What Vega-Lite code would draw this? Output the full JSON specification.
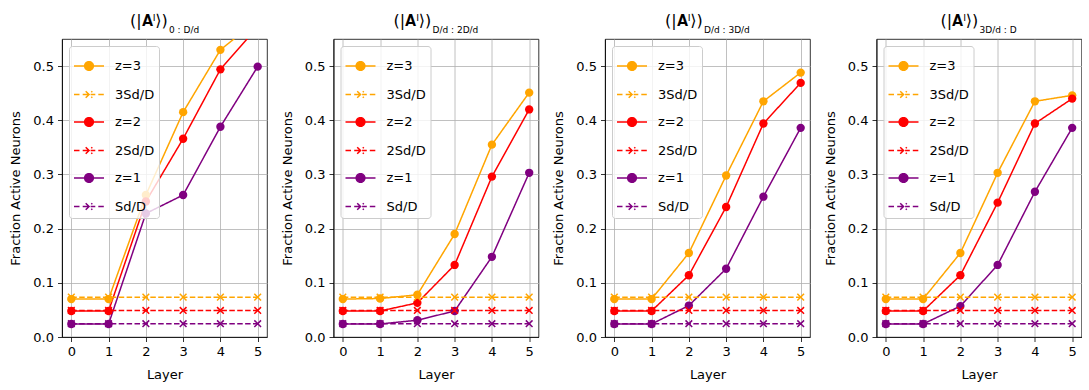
{
  "$schema": "https://vega.github.io/schema/vega-lite/v6.json",
  "padding": {"left": 9, "top": 12, "right": 0, "bottom": 0},
  "background": "white",
  "config": {
    "font": "DejaVu Sans",
    "view": {"stroke": "black", "strokeWidth": 0.8},
    "axis": {
      "grid": true, "gridColor": "#b0b0b0", "gridWidth": 0.8,
      "domainColor": "black", "domainWidth": 0.8,
      "tickColor": "black", "tickSize": 4.5, "tickWidth": 0.8,
      "labelColor": "black", "labelFontSize": 13, "labelPadding": 4,
      "titleColor": "black", "titleFontSize": 13, "titleFontWeight": "normal",
      "labelFont": "DejaVu Sans", "titleFont": "DejaVu Sans"
    },
    "title": {"fontSize": 16, "fontWeight": "normal", "color": "black", "font": "DejaVu Sans", "offset": 4, "anchor": "start", "frame": "group",
      "subtitleFontSize": 9, "subtitleColor": "black", "subtitleFont": "DejaVu Sans", "subtitlePadding": -5},
    "legend": {
      "orient": "top-left", "offset": 7, "padding": 4,
      "fillColor": "rgba(255,255,255,0.8)", "strokeColor": "#cccccc", "cornerRadius": 3,
      "symbolSize": 900, "symbolStrokeWidth": 1.5, "labelFontSize": 13, "labelOffset": 10,
      "labelColor": "black", "labelFont": "DejaVu Sans", "rowPadding": 4.5, "title": null
    }
  },
  "datasets": {
    "d": [
      {"p":1,"l":0,"s":"z=3","v":0.070},{"p":1,"l":1,"s":"z=3","v":0.070},{"p":1,"l":2,"s":"z=3","v":0.262},{"p":1,"l":3,"s":"z=3","v":0.415},{"p":1,"l":4,"s":"z=3","v":0.530},{"p":1,"l":5,"s":"z=3","v":0.585},
      {"p":1,"l":0,"s":"z=2","v":0.048},{"p":1,"l":1,"s":"z=2","v":0.048},{"p":1,"l":2,"s":"z=2","v":0.250},{"p":1,"l":3,"s":"z=2","v":0.366},{"p":1,"l":4,"s":"z=2","v":0.494},{"p":1,"l":5,"s":"z=2","v":0.572},
      {"p":1,"l":0,"s":"z=1","v":0.024},{"p":1,"l":1,"s":"z=1","v":0.024},{"p":1,"l":2,"s":"z=1","v":0.228},{"p":1,"l":3,"s":"z=1","v":0.262},{"p":1,"l":4,"s":"z=1","v":0.388},{"p":1,"l":5,"s":"z=1","v":0.499},
      {"p":1,"l":0,"s":"3Sd/D","v":0.0735},{"p":1,"l":1,"s":"3Sd/D","v":0.0735},{"p":1,"l":2,"s":"3Sd/D","v":0.0735},{"p":1,"l":3,"s":"3Sd/D","v":0.0735},{"p":1,"l":4,"s":"3Sd/D","v":0.0735},{"p":1,"l":5,"s":"3Sd/D","v":0.0735},
      {"p":1,"l":0,"s":"2Sd/D","v":0.049},{"p":1,"l":1,"s":"2Sd/D","v":0.049},{"p":1,"l":2,"s":"2Sd/D","v":0.049},{"p":1,"l":3,"s":"2Sd/D","v":0.049},{"p":1,"l":4,"s":"2Sd/D","v":0.049},{"p":1,"l":5,"s":"2Sd/D","v":0.049},
      {"p":1,"l":0,"s":"Sd/D","v":0.0245},{"p":1,"l":1,"s":"Sd/D","v":0.0245},{"p":1,"l":2,"s":"Sd/D","v":0.0245},{"p":1,"l":3,"s":"Sd/D","v":0.0245},{"p":1,"l":4,"s":"Sd/D","v":0.0245},{"p":1,"l":5,"s":"Sd/D","v":0.0245},

      {"p":2,"l":0,"s":"z=3","v":0.070},{"p":2,"l":1,"s":"z=3","v":0.071},{"p":2,"l":2,"s":"z=3","v":0.078},{"p":2,"l":3,"s":"z=3","v":0.190},{"p":2,"l":4,"s":"z=3","v":0.355},{"p":2,"l":5,"s":"z=3","v":0.451},
      {"p":2,"l":0,"s":"z=2","v":0.048},{"p":2,"l":1,"s":"z=2","v":0.048},{"p":2,"l":2,"s":"z=2","v":0.063},{"p":2,"l":3,"s":"z=2","v":0.133},{"p":2,"l":4,"s":"z=2","v":0.296},{"p":2,"l":5,"s":"z=2","v":0.420},
      {"p":2,"l":0,"s":"z=1","v":0.024},{"p":2,"l":1,"s":"z=1","v":0.024},{"p":2,"l":2,"s":"z=1","v":0.031},{"p":2,"l":3,"s":"z=1","v":0.048},{"p":2,"l":4,"s":"z=1","v":0.148},{"p":2,"l":5,"s":"z=1","v":0.303},
      {"p":2,"l":0,"s":"3Sd/D","v":0.0735},{"p":2,"l":1,"s":"3Sd/D","v":0.0735},{"p":2,"l":2,"s":"3Sd/D","v":0.0735},{"p":2,"l":3,"s":"3Sd/D","v":0.0735},{"p":2,"l":4,"s":"3Sd/D","v":0.0735},{"p":2,"l":5,"s":"3Sd/D","v":0.0735},
      {"p":2,"l":0,"s":"2Sd/D","v":0.049},{"p":2,"l":1,"s":"2Sd/D","v":0.049},{"p":2,"l":2,"s":"2Sd/D","v":0.049},{"p":2,"l":3,"s":"2Sd/D","v":0.049},{"p":2,"l":4,"s":"2Sd/D","v":0.049},{"p":2,"l":5,"s":"2Sd/D","v":0.049},
      {"p":2,"l":0,"s":"Sd/D","v":0.0245},{"p":2,"l":1,"s":"Sd/D","v":0.0245},{"p":2,"l":2,"s":"Sd/D","v":0.0245},{"p":2,"l":3,"s":"Sd/D","v":0.0245},{"p":2,"l":4,"s":"Sd/D","v":0.0245},{"p":2,"l":5,"s":"Sd/D","v":0.0245},

      {"p":3,"l":0,"s":"z=3","v":0.070},{"p":3,"l":1,"s":"z=3","v":0.070},{"p":3,"l":2,"s":"z=3","v":0.155},{"p":3,"l":3,"s":"z=3","v":0.298},{"p":3,"l":4,"s":"z=3","v":0.435},{"p":3,"l":5,"s":"z=3","v":0.488},
      {"p":3,"l":0,"s":"z=2","v":0.048},{"p":3,"l":1,"s":"z=2","v":0.048},{"p":3,"l":2,"s":"z=2","v":0.114},{"p":3,"l":3,"s":"z=2","v":0.240},{"p":3,"l":4,"s":"z=2","v":0.394},{"p":3,"l":5,"s":"z=2","v":0.469},
      {"p":3,"l":0,"s":"z=1","v":0.024},{"p":3,"l":1,"s":"z=1","v":0.024},{"p":3,"l":2,"s":"z=1","v":0.058},{"p":3,"l":3,"s":"z=1","v":0.126},{"p":3,"l":4,"s":"z=1","v":0.259},{"p":3,"l":5,"s":"z=1","v":0.386},
      {"p":3,"l":0,"s":"3Sd/D","v":0.0735},{"p":3,"l":1,"s":"3Sd/D","v":0.0735},{"p":3,"l":2,"s":"3Sd/D","v":0.0735},{"p":3,"l":3,"s":"3Sd/D","v":0.0735},{"p":3,"l":4,"s":"3Sd/D","v":0.0735},{"p":3,"l":5,"s":"3Sd/D","v":0.0735},
      {"p":3,"l":0,"s":"2Sd/D","v":0.049},{"p":3,"l":1,"s":"2Sd/D","v":0.049},{"p":3,"l":2,"s":"2Sd/D","v":0.049},{"p":3,"l":3,"s":"2Sd/D","v":0.049},{"p":3,"l":4,"s":"2Sd/D","v":0.049},{"p":3,"l":5,"s":"2Sd/D","v":0.049},
      {"p":3,"l":0,"s":"Sd/D","v":0.0245},{"p":3,"l":1,"s":"Sd/D","v":0.0245},{"p":3,"l":2,"s":"Sd/D","v":0.0245},{"p":3,"l":3,"s":"Sd/D","v":0.0245},{"p":3,"l":4,"s":"Sd/D","v":0.0245},{"p":3,"l":5,"s":"Sd/D","v":0.0245},

      {"p":4,"l":0,"s":"z=3","v":0.070},{"p":4,"l":1,"s":"z=3","v":0.070},{"p":4,"l":2,"s":"z=3","v":0.155},{"p":4,"l":3,"s":"z=3","v":0.303},{"p":4,"l":4,"s":"z=3","v":0.435},{"p":4,"l":5,"s":"z=3","v":0.446},
      {"p":4,"l":0,"s":"z=2","v":0.048},{"p":4,"l":1,"s":"z=2","v":0.048},{"p":4,"l":2,"s":"z=2","v":0.114},{"p":4,"l":3,"s":"z=2","v":0.248},{"p":4,"l":4,"s":"z=2","v":0.394},{"p":4,"l":5,"s":"z=2","v":0.440},
      {"p":4,"l":0,"s":"z=1","v":0.024},{"p":4,"l":1,"s":"z=1","v":0.024},{"p":4,"l":2,"s":"z=1","v":0.057},{"p":4,"l":3,"s":"z=1","v":0.133},{"p":4,"l":4,"s":"z=1","v":0.268},{"p":4,"l":5,"s":"z=1","v":0.386},
      {"p":4,"l":0,"s":"3Sd/D","v":0.0735},{"p":4,"l":1,"s":"3Sd/D","v":0.0735},{"p":4,"l":2,"s":"3Sd/D","v":0.0735},{"p":4,"l":3,"s":"3Sd/D","v":0.0735},{"p":4,"l":4,"s":"3Sd/D","v":0.0735},{"p":4,"l":5,"s":"3Sd/D","v":0.0735},
      {"p":4,"l":0,"s":"2Sd/D","v":0.049},{"p":4,"l":1,"s":"2Sd/D","v":0.049},{"p":4,"l":2,"s":"2Sd/D","v":0.049},{"p":4,"l":3,"s":"2Sd/D","v":0.049},{"p":4,"l":4,"s":"2Sd/D","v":0.049},{"p":4,"l":5,"s":"2Sd/D","v":0.049},
      {"p":4,"l":0,"s":"Sd/D","v":0.0245},{"p":4,"l":1,"s":"Sd/D","v":0.0245},{"p":4,"l":2,"s":"Sd/D","v":0.0245},{"p":4,"l":3,"s":"Sd/D","v":0.0245},{"p":4,"l":4,"s":"Sd/D","v":0.0245},{"p":4,"l":5,"s":"Sd/D","v":0.0245}
    ]
  },
  "data": {"name": "d"},
  "spacing": 12.5,
  "resolve": {"scale": {"color": "independent", "strokeDash": "independent"}, "legend": {"color": "independent"}},
  "hconcat": [
    {
      "width": 205, "height": 298,
      "title": {"text": "(|𝐀ˡ⟩)", "subtitle": "0 : D/d", "dx": 68, "encode": {"subtitle": {"update": {"dx": {"value": 107}, "dy": {"value": 2}}}}},
      "transform": [{"filter": "datum.p == 1"}],
      "encoding": {
        "x": {"field": "l", "type": "quantitative", "scale": {"domain": [-0.25, 5.25], "nice": false, "zero": false}, "axis": {"values": [0,1,2,3,4,5], "format": "d", "title": "Layer", "titlePadding": 9.5}},
        "y": {"field": "v", "type": "quantitative", "scale": {"domain": [0, 0.55], "nice": false}, "axis": {"values": [0,0.1,0.2,0.3,0.4,0.5], "format": ".1f", "title": "Fraction Active Neurons", "titlePadding": 10}},
        "color": {"field": "s", "type": "nominal", "scale": {"domain": ["z=3","3Sd/D","z=2","2Sd/D","z=1","Sd/D"], "range": ["orange","orange","red","red","purple","purple"]},
          "legend": {"encode": {"symbols": {"update": {
            "shape": {"signal": "indexof(datum.value,'z=')==0 ? 'M-1,0L1,0M0.29,0A0.29,0.29,0,1,1,-0.29,0A0.29,0.29,0,1,1,0.29,0Z' : 'M-1,0L-0.62,0M-0.42,0L0.42,0M0.62,0L1,0M-0.22,-0.22L0.22,0.22M-0.22,0.22L0.22,-0.22'"},
            "fill": {"signal": "indexof(datum.value,'z=')==0 ? (indexof(datum.value,'3')>=0 ? 'orange' : indexof(datum.value,'2')>=0 ? 'red' : 'purple') : 'transparent'"},
            "stroke": {"signal": "indexof(datum.value,'3')>=0 ? 'orange' : indexof(datum.value,'2')>=0 ? 'red' : 'purple'"},
            "strokeWidth": {"value": 1.5}, "opacity": {"value": 1}, "fillOpacity": {"value": 1}, "strokeOpacity": {"value": 1}}}}}}
      },
      "layer": [
        {"mark": {"type": "line", "clip": true, "strokeWidth": 1.5},
         "encoding": {"strokeDash": {"field": "s", "type": "nominal", "scale": {"domain": ["z=3","3Sd/D","z=2","2Sd/D","z=1","Sd/D"], "range": [[1,0],[5.5,2.4],[1,0],[5.5,2.4],[1,0],[5.5,2.4]]}, "legend": null}}},
        {"transform": [{"filter": "indexof(datum.s,'z=')==0"}], "mark": {"type": "point", "shape": "circle", "filled": true, "size": 70, "opacity": 1, "clip": true}},
        {"transform": [{"filter": "indexof(datum.s,'z=')<0"}], "mark": {"type": "point", "shape": "M-1,-1L1,1M-1,1L1,-1", "filled": false, "size": 45, "strokeWidth": 1.5, "opacity": 1, "clip": true}}
      ]
    },
    {
      "width": 205, "height": 298,
      "title": {"text": "(|𝐀ˡ⟩)", "subtitle": "D/d : 2D/d", "dx": 60, "encode": {"subtitle": {"update": {"dx": {"value": 99}, "dy": {"value": 2}}}}},
      "transform": [{"filter": "datum.p == 2"}],
      "encoding": {
        "x": {"field": "l", "type": "quantitative", "scale": {"domain": [-0.25, 5.25], "nice": false, "zero": false}, "axis": {"values": [0,1,2,3,4,5], "format": "d", "title": "Layer", "titlePadding": 9.5}},
        "y": {"field": "v", "type": "quantitative", "scale": {"domain": [0, 0.55], "nice": false}, "axis": {"values": [0,0.1,0.2,0.3,0.4,0.5], "format": ".1f", "title": "Fraction Active Neurons", "titlePadding": 10}},
        "color": {"field": "s", "type": "nominal", "scale": {"domain": ["z=3","3Sd/D","z=2","2Sd/D","z=1","Sd/D"], "range": ["orange","orange","red","red","purple","purple"]},
          "legend": {"encode": {"symbols": {"update": {
            "shape": {"signal": "indexof(datum.value,'z=')==0 ? 'M-1,0L1,0M0.29,0A0.29,0.29,0,1,1,-0.29,0A0.29,0.29,0,1,1,0.29,0Z' : 'M-1,0L-0.62,0M-0.42,0L0.42,0M0.62,0L1,0M-0.22,-0.22L0.22,0.22M-0.22,0.22L0.22,-0.22'"},
            "fill": {"signal": "indexof(datum.value,'z=')==0 ? (indexof(datum.value,'3')>=0 ? 'orange' : indexof(datum.value,'2')>=0 ? 'red' : 'purple') : 'transparent'"},
            "stroke": {"signal": "indexof(datum.value,'3')>=0 ? 'orange' : indexof(datum.value,'2')>=0 ? 'red' : 'purple'"},
            "strokeWidth": {"value": 1.5}, "opacity": {"value": 1}, "fillOpacity": {"value": 1}, "strokeOpacity": {"value": 1}}}}}}
      },
      "layer": [
        {"mark": {"type": "line", "clip": true, "strokeWidth": 1.5},
         "encoding": {"strokeDash": {"field": "s", "type": "nominal", "scale": {"domain": ["z=3","3Sd/D","z=2","2Sd/D","z=1","Sd/D"], "range": [[1,0],[5.5,2.4],[1,0],[5.5,2.4],[1,0],[5.5,2.4]]}, "legend": null}}},
        {"transform": [{"filter": "indexof(datum.s,'z=')==0"}], "mark": {"type": "point", "shape": "circle", "filled": true, "size": 70, "opacity": 1, "clip": true}},
        {"transform": [{"filter": "indexof(datum.s,'z=')<0"}], "mark": {"type": "point", "shape": "M-1,-1L1,1M-1,1L1,-1", "filled": false, "size": 45, "strokeWidth": 1.5, "opacity": 1, "clip": true}}
      ]
    },
    {
      "width": 205, "height": 298,
      "title": {"text": "(|𝐀ˡ⟩)", "subtitle": "D/d : 3D/d", "dx": 60, "encode": {"subtitle": {"update": {"dx": {"value": 99}, "dy": {"value": 2}}}}},
      "transform": [{"filter": "datum.p == 3"}],
      "encoding": {
        "x": {"field": "l", "type": "quantitative", "scale": {"domain": [-0.25, 5.25], "nice": false, "zero": false}, "axis": {"values": [0,1,2,3,4,5], "format": "d", "title": "Layer", "titlePadding": 9.5}},
        "y": {"field": "v", "type": "quantitative", "scale": {"domain": [0, 0.55], "nice": false}, "axis": {"values": [0,0.1,0.2,0.3,0.4,0.5], "format": ".1f", "title": "Fraction Active Neurons", "titlePadding": 10}},
        "color": {"field": "s", "type": "nominal", "scale": {"domain": ["z=3","3Sd/D","z=2","2Sd/D","z=1","Sd/D"], "range": ["orange","orange","red","red","purple","purple"]},
          "legend": {"encode": {"symbols": {"update": {
            "shape": {"signal": "indexof(datum.value,'z=')==0 ? 'M-1,0L1,0M0.29,0A0.29,0.29,0,1,1,-0.29,0A0.29,0.29,0,1,1,0.29,0Z' : 'M-1,0L-0.62,0M-0.42,0L0.42,0M0.62,0L1,0M-0.22,-0.22L0.22,0.22M-0.22,0.22L0.22,-0.22'"},
            "fill": {"signal": "indexof(datum.value,'z=')==0 ? (indexof(datum.value,'3')>=0 ? 'orange' : indexof(datum.value,'2')>=0 ? 'red' : 'purple') : 'transparent'"},
            "stroke": {"signal": "indexof(datum.value,'3')>=0 ? 'orange' : indexof(datum.value,'2')>=0 ? 'red' : 'purple'"},
            "strokeWidth": {"value": 1.5}, "opacity": {"value": 1}, "fillOpacity": {"value": 1}, "strokeOpacity": {"value": 1}}}}}}
      },
      "layer": [
        {"mark": {"type": "line", "clip": true, "strokeWidth": 1.5},
         "encoding": {"strokeDash": {"field": "s", "type": "nominal", "scale": {"domain": ["z=3","3Sd/D","z=2","2Sd/D","z=1","Sd/D"], "range": [[1,0],[5.5,2.4],[1,0],[5.5,2.4],[1,0],[5.5,2.4]]}, "legend": null}}},
        {"transform": [{"filter": "indexof(datum.s,'z=')==0"}], "mark": {"type": "point", "shape": "circle", "filled": true, "size": 70, "opacity": 1, "clip": true}},
        {"transform": [{"filter": "indexof(datum.s,'z=')<0"}], "mark": {"type": "point", "shape": "M-1,-1L1,1M-1,1L1,-1", "filled": false, "size": 45, "strokeWidth": 1.5, "opacity": 1, "clip": true}}
      ]
    },
    {
      "width": 205, "height": 298,
      "title": {"text": "(|𝐀ˡ⟩)", "subtitle": "3D/d : D", "dx": 64, "encode": {"subtitle": {"update": {"dx": {"value": 103}, "dy": {"value": 2}}}}},
      "transform": [{"filter": "datum.p == 4"}],
      "encoding": {
        "x": {"field": "l", "type": "quantitative", "scale": {"domain": [-0.25, 5.25], "nice": false, "zero": false}, "axis": {"values": [0,1,2,3,4,5], "format": "d", "title": "Layer", "titlePadding": 9.5}},
        "y": {"field": "v", "type": "quantitative", "scale": {"domain": [0, 0.55], "nice": false}, "axis": {"values": [0,0.1,0.2,0.3,0.4,0.5], "format": ".1f", "title": "Fraction Active Neurons", "titlePadding": 10}},
        "color": {"field": "s", "type": "nominal", "scale": {"domain": ["z=3","3Sd/D","z=2","2Sd/D","z=1","Sd/D"], "range": ["orange","orange","red","red","purple","purple"]},
          "legend": {"encode": {"symbols": {"update": {
            "shape": {"signal": "indexof(datum.value,'z=')==0 ? 'M-1,0L1,0M0.29,0A0.29,0.29,0,1,1,-0.29,0A0.29,0.29,0,1,1,0.29,0Z' : 'M-1,0L-0.62,0M-0.42,0L0.42,0M0.62,0L1,0M-0.22,-0.22L0.22,0.22M-0.22,0.22L0.22,-0.22'"},
            "fill": {"signal": "indexof(datum.value,'z=')==0 ? (indexof(datum.value,'3')>=0 ? 'orange' : indexof(datum.value,'2')>=0 ? 'red' : 'purple') : 'transparent'"},
            "stroke": {"signal": "indexof(datum.value,'3')>=0 ? 'orange' : indexof(datum.value,'2')>=0 ? 'red' : 'purple'"},
            "strokeWidth": {"value": 1.5}, "opacity": {"value": 1}, "fillOpacity": {"value": 1}, "strokeOpacity": {"value": 1}}}}}}
      },
      "layer": [
        {"mark": {"type": "line", "clip": true, "strokeWidth": 1.5},
         "encoding": {"strokeDash": {"field": "s", "type": "nominal", "scale": {"domain": ["z=3","3Sd/D","z=2","2Sd/D","z=1","Sd/D"], "range": [[1,0],[5.5,2.4],[1,0],[5.5,2.4],[1,0],[5.5,2.4]]}, "legend": null}}},
        {"transform": [{"filter": "indexof(datum.s,'z=')==0"}], "mark": {"type": "point", "shape": "circle", "filled": true, "size": 70, "opacity": 1, "clip": true}},
        {"transform": [{"filter": "indexof(datum.s,'z=')<0"}], "mark": {"type": "point", "shape": "M-1,-1L1,1M-1,1L1,-1", "filled": false, "size": 45, "strokeWidth": 1.5, "opacity": 1, "clip": true}}
      ]
    }
  ]
}
